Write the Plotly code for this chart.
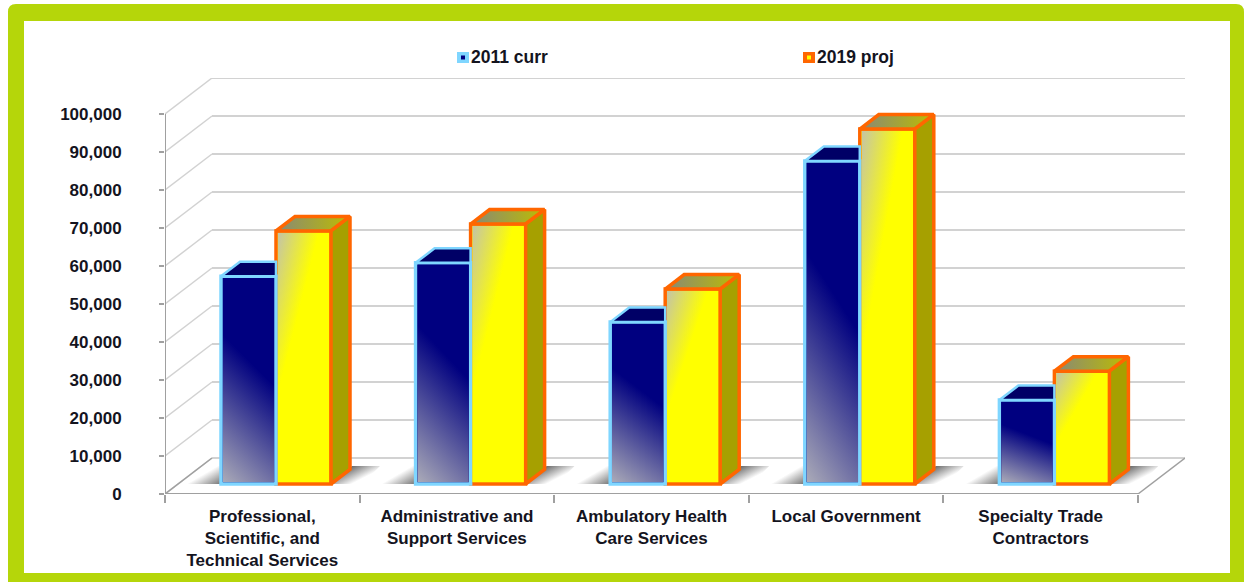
import urllib.parse
import plotly.graph_objects as go

categories = ["Professional,<br>Scientific, and<br>Technical Services",
              "Administrative and<br>Support Services",
              "Ambulatory Health<br>Care Services",
              "Local Government",
              "Specialty Trade<br>Contractors"]
values_2011 = [54700, 58200, 42600, 85000, 22100]
values_2019 = [66600, 68400, 51300, 93400, 29700]
series_names = ["2011 curr", "2019 proj"]
y_ticks = list(range(0, 100001, 10000))

# ---- geometry (pixels of the 1244x582 page)
W, H = 1244, 582
AX_L, AX_R_FRONT, AX_R_BACK = 165, 1138, 1185
AX_B, AX_T_FRONT, AX_T_BACK = 494, 114, 78
PX_PER_CAT = (AX_R_FRONT - AX_L) / 5
PX_PER_VAL = (AX_B - AX_T_FRONT) / 100000
cx = lambda px: px / PX_PER_CAT          # pixel length -> x units
vy = lambda px: px / PX_PER_VAL          # pixel length -> value units
X_MAX = cx(AX_R_BACK - AX_L)
Y_MAX = vy(AX_B - AX_T_BACK)
WALL_DX, WALL_DY = cx(47), vy(36)
BAR_DX, BAR_DY = cx(19), vy(14.5)
FLOOR_BASE = vy(10)                      # bars stand mid-depth on the floor
BAR_W = cx(55)
OFF_BLUE, OFF_ORANGE = cx(-41.3), cx(13.7)

LIGHTBLUE, ORANGE = "#7FD6FF", "#FF6600"
GREEN = "#B5D60A"
TEXT = "#14141E"
FONT = "Liberation Sans"
BORDER = 3.5


def svg_uri(svg):
    return "data:image/svg+xml," + urllib.parse.quote(svg)


def gradient_svg(x1, y1, x2, y2, c0, c1):
    return svg_uri(
        f'<svg xmlns="http://www.w3.org/2000/svg" width="100" height="100" viewBox="0 0 1 1" '
        f'preserveAspectRatio="none"><defs><linearGradient id="g" x1="{x1}" y1="{y1}" x2="{x2}" y2="{y2}">'
        f'<stop offset="0" stop-color="{c0}"/><stop offset="1" stop-color="{c1}"/></linearGradient></defs>'
        f'<rect width="1" height="1" fill="url(#g)"/></svg>')


SHADOW = svg_uri(
    '<svg xmlns="http://www.w3.org/2000/svg" width="193" height="18" viewBox="0 0 193 18" '
    'preserveAspectRatio="none"><defs>'
    '<linearGradient id="a" gradientUnits="userSpaceOnUse" x1="15" y1="9" x2="24" y2="24.5">'
    '<stop offset="0" stop-color="#707070" stop-opacity="0"/><stop offset="1" stop-color="#707070" stop-opacity="1"/></linearGradient>'
    '<linearGradient id="b" gradientUnits="userSpaceOnUse" x1="165" y1="0" x2="172.2" y2="14.2">'
    '<stop offset="0" stop-color="#6a6a6a" stop-opacity="1"/><stop offset="1" stop-color="#6a6a6a" stop-opacity="0"/></linearGradient>'
    '</defs><polygon points="0,18 30,0 36,0 36,18" fill="url(#a)"/>'
    '<polygon points="146,18 165,0 193,0 175,18" fill="url(#b)"/></svg>')

fig = go.Figure()

# ---- front faces
fig.add_trace(go.Bar(x=[i + 0.5 for i in range(5)], y=values_2019, base=FLOOR_BASE, width=BAR_W,
                     offset=OFF_ORANGE, name=series_names[1],
                     marker=dict(color="#FFFF00", line=dict(color=ORANGE, width=BORDER)), showlegend=False))
fig.add_trace(go.Bar(x=[i + 0.5 for i in range(5)], y=values_2011, base=FLOOR_BASE, width=BAR_W,
                     offset=OFF_BLUE, name=series_names[0],
                     marker=dict(color="#000080", line=dict(color=LIGHTBLUE, width=BORDER)), showlegend=False))

images, shapes = [], []
inset_x, inset_y = cx(BORDER / 2), vy(BORDER / 2)
for i, (a, b) in enumerate(zip(values_2011, values_2019)):
    c = i + 0.5
    l_b, l_o = c + OFF_BLUE, c + OFF_ORANGE
    r_o = l_o + BAR_W
    ta, tb = FLOOR_BASE + a, FLOOR_BASE + b
    # blue top face (ends where the orange front begins)
    fig.add_trace(go.Scatter(
        x=[l_b, l_o, l_o, l_b + BAR_DX, l_b], y=[ta, ta, ta + BAR_DY, ta + BAR_DY, ta],
        mode="lines", fill="toself", fillcolor="#000066", line=dict(color=LIGHTBLUE, width=2.5),
        showlegend=False, hoverinfo="skip"))
    # orange top face
    fig.add_trace(go.Scatter(
        x=[l_o, r_o, r_o + BAR_DX, l_o + BAR_DX, l_o], y=[tb, tb, tb + BAR_DY, tb + BAR_DY, tb],
        mode="lines", fill="toself",
        fillgradient=dict(type="horizontal", colorscale=[[0, "#888878"], [1, "#BDBD00"]]),
        line=dict(color=ORANGE, width=BORDER), showlegend=False, hoverinfo="skip"))
    # orange side face
    fig.add_trace(go.Scatter(
        x=[r_o, r_o + BAR_DX, r_o + BAR_DX, r_o, r_o],
        y=[FLOOR_BASE, FLOOR_BASE + BAR_DY, tb + BAR_DY, tb, FLOOR_BASE],
        mode="lines", fill="toself", fillcolor="#A6A000", line=dict(color=ORANGE, width=BORDER),
        showlegend=False, hoverinfo="skip"))
    # gradients on the two front faces
    images.append(dict(source=gradient_svg(0, 1, 0.17, 0.32, "#ABABB8", "#000080"),
                       xref="x", yref="y", x=l_b + inset_x, y=ta - inset_y, sizex=BAR_W - 2 * inset_x,
                       sizey=a - 2 * inset_y, xanchor="left", yanchor="top", sizing="stretch", layer="above"))
    images.append(dict(source=gradient_svg(0, 0, 0.318, 0.392, "#C4C4A8", "#FFFF00"),
                       xref="x", yref="y", x=l_o + inset_x, y=tb - inset_y, sizex=BAR_W - 2 * inset_x,
                       sizey=b - 2 * inset_y, xanchor="left", yanchor="top", sizing="stretch", layer="above"))
    # floor shadow
    images.append(dict(source=SHADOW, xref="x", yref="y", x=l_b - cx(34), y=FLOOR_BASE + vy(18),
                       sizex=cx(193), sizey=vy(18), xanchor="left", yanchor="top",
                       sizing="stretch", layer="below"))

# ---- walls and floor
GRID = "#D2D2D2"
for v in y_ticks:
    shapes.append(dict(type="line", xref="x", yref="y", x0=WALL_DX, x1=X_MAX, y0=v + WALL_DY, y1=v + WALL_DY,
                       line=dict(color=GRID, width=2), layer="below"))
    shapes.append(dict(type="line", xref="x", yref="y", x0=0, x1=WALL_DX, y0=v, y1=v + WALL_DY,
                       line=dict(color=GRID, width=1.5), layer="below"))
AXIS = "#A0A0A0"
shapes += [
    dict(type="line", xref="x", yref="y", x0=0, x1=0, y0=0, y1=100000, line=dict(color=AXIS, width=2), layer="below"),
    dict(type="line", xref="x", yref="y", x0=0, x1=5, y0=0, y1=0, line=dict(color=AXIS, width=2), layer="below"),
    dict(type="line", xref="x", yref="y", x0=5, x1=5 + WALL_DX, y0=0, y1=WALL_DY, line=dict(color=AXIS, width=1.5), layer="below"),
    dict(type="line", xref="x", yref="y", x0=0, x1=WALL_DX, y0=0, y1=WALL_DY, line=dict(color=AXIS, width=1.5), layer="below"),
]

# ---- page frame (paper coordinates, even-odd ring)
pw, ph = AX_R_BACK - AX_L, AX_B - AX_T_BACK
px_ = lambda x: (x - AX_L) / pw
py_ = lambda y: (AX_B - y) / ph
def P(x, y):
    return f"{px_(x):.5f},{py_(y):.5f}"
o_l, o_r, o_t, o_b, rad = 8, 1244, 4, 582, 8
i_l, i_r, i_t, i_b = 24, 1230, 21, 573
ring = (f"M{P(o_l + rad, o_t)} L{P(o_r - rad, o_t)} Q{P(o_r, o_t)} {P(o_r, o_t + rad)} L{P(o_r, o_b)} "
        f"L{P(o_l, o_b)} L{P(o_l, o_t + rad)} Q{P(o_l, o_t)} {P(o_l + rad, o_t)} Z "
        f"M{P(i_l, i_t)} L{P(i_r, i_t)} L{P(i_r, i_b)} L{P(i_l, i_b)} Z")
shapes.append(dict(type="path", xref="paper", yref="paper", path=ring, fillcolor=GREEN, fillrule="evenodd",
                   line=dict(width=0), layer="below"))

# ---- legend (swatches and real text)
annotations = []
for (sx, tx, name, edge, core) in [(457, 469, series_names[0], LIGHTBLUE, "#000080"),
                                   (803, 815, series_names[1], ORANGE, "#FFFF00")]:
    shapes.append(dict(type="rect", xref="paper", yref="paper", x0=px_(sx), x1=px_(sx + 12), y0=py_(63), y1=py_(52),
                       fillcolor=edge, line=dict(width=0), layer="above"))
    shapes.append(dict(type="rect", xref="paper", yref="paper", x0=px_(sx + 4), x1=px_(sx + 8), y0=py_(59.5), y1=py_(55.5),
                       fillcolor=core, line=dict(width=0), layer="above"))
    annotations.append(dict(xref="paper", yref="paper", x=px_(tx), y=py_(57), text=f"<b>{name}</b>", showarrow=False,
                            xanchor="left", yanchor="middle",
                            font=dict(family=FONT, size=17.5, color=TEXT)))

fig.update_layout(
    width=W, height=H, margin=dict(l=AX_L, r=W - AX_R_BACK, t=AX_T_BACK, b=H - AX_B, autoexpand=False),
    paper_bgcolor="white", plot_bgcolor="rgba(0,0,0,0)", showlegend=False, barmode="overlay",
    images=images, shapes=shapes, annotations=annotations,
    xaxis=dict(range=[0, X_MAX], tickmode="array", tickvals=[i + 0.5 for i in range(5)], ticktext=categories,
               ticks="", showgrid=False, zeroline=False, showline=False, ticklabelstandoff=10,
               tickfont=dict(family=FONT, size=17, color=TEXT, weight="bold"),
               minor=dict(tickmode="array", tickvals=list(range(6)), ticks="outside", ticklen=8, tickwidth=2,
                          tickcolor=AXIS, showgrid=False)),
    yaxis=dict(range=[0, Y_MAX], tickmode="array", tickvals=y_ticks, ticks="outside", ticklen=5, tickwidth=2,
               tickcolor=AXIS, tickformat=",d", showgrid=False, zeroline=False, showline=False,
               ticklabelstandoff=34, tickfont=dict(family=FONT, size=17, color=TEXT, weight="bold")),
)

fig.write_html("out.html", config=dict(displayModeBar=False),
               post_script='document.body.style.margin="0";document.documentElement.style.overflow="hidden";')
